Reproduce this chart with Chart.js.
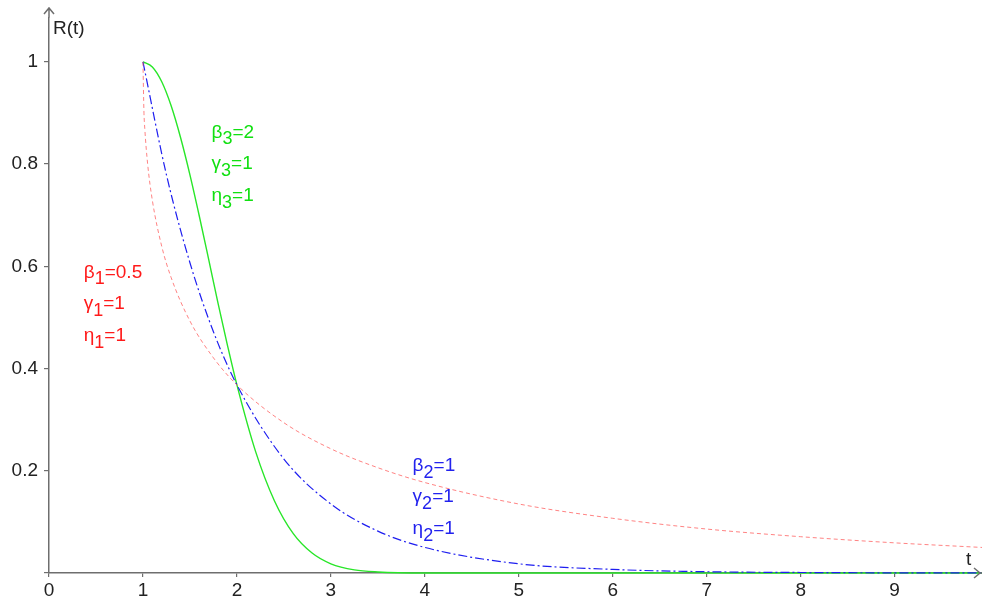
<!DOCTYPE html>
<html>
<head>
<meta charset="utf-8">
<script src="https://cdn.jsdelivr.net/npm/chart.js@4.4.1/dist/chart.umd.min.js"></script>
<style>
  html, body { margin: 0; padding: 0; background: #fff; }
  #wrap { width: 982px; height: 601px; }
</style>
</head>
<body>
<div id="wrap"><canvas id="mycanvas"></canvas></div>
<script>
// values
var tRed   = [1, 1.01, 1.02, 1.05, 1.1, 1.2, 1.3, 1.5, 1.75, 2, 2.5, 3, 3.5, 4, 5, 6, 7, 8, 9, 9.93];
var rRed   = [1, 0.905, 0.868, 0.80, 0.729, 0.639, 0.578, 0.493, 0.421, 0.368, 0.294, 0.243, 0.206, 0.177, 0.135, 0.107, 0.086, 0.071, 0.059, 0.050];

var tBlue  = [1, 1.25, 1.5, 1.75, 2, 2.5, 3, 3.5, 4, 5, 6, 7, 8, 9, 9.93];
var rBlue  = [1, 0.779, 0.607, 0.472, 0.368, 0.223, 0.135, 0.082, 0.050, 0.018, 0.007, 0.0025, 0.001, 0.0003, 0.0001];

var tGreen = [1, 1.1, 1.2, 1.3, 1.4, 1.5, 1.6, 1.7, 1.8, 1.9, 2, 2.2, 2.4, 2.6, 2.8, 3, 3.25, 3.5, 4, 5, 9.93];
var rGreen = [1, 0.990, 0.961, 0.914, 0.852, 0.779, 0.698, 0.613, 0.527, 0.445, 0.368, 0.237, 0.141, 0.077, 0.039, 0.018, 0.006, 0.002, 0.0001, 0, 0];

var xTicks = [0, 1, 2, 3, 4, 5, 6, 7, 8, 9];
var yTicks = [0, 0.2, 0.4, 0.6, 0.8, 1];

// parameter labels: [x, y, symbol, subscript, rest, colour]
var notes = [
  [1.73, 0.862, 'β', '3', '=2', '#11e011'],
  [1.73, 0.800, 'γ', '3', '=1', '#11e011'],
  [1.73, 0.738, 'η', '3', '=1', '#11e011'],
  [0.37, 0.588, 'β', '1', '=0.5', '#ff1a1a'],
  [0.37, 0.526, 'γ', '1', '=1', '#ff1a1a'],
  [0.37, 0.464, 'η', '1', '=1', '#ff1a1a'],
  [3.87, 0.209, 'β', '2', '=1', '#2222ee'],
  [3.87, 0.149, 'γ', '2', '=1', '#2222ee'],
  [3.87, 0.087, 'η', '2', '=1', '#2222ee']
];

function pts(xs, ys) {
  var out = [];
  for (var i in xs) out.push({x: xs[i], y: ys[i]});
  return out;
}

var axisGrey = '#6e6e6e';
var font = 'Liberation Sans, Arial, sans-serif';

var extras = {
  id: 'extras',
  afterDraw: function(chart) {
    var ctx = chart.ctx;
    var xs = chart.scales.x, ys = chart.scales.y;
    var a = chart.chartArea;
    ctx.save();
    // axis extensions + arrow heads
    ctx.strokeStyle = axisGrey;
    ctx.lineWidth = 1.5;
    ctx.beginPath();
    ctx.moveTo(a.left, a.top); ctx.lineTo(a.left, 8);
    ctx.moveTo(a.left - 5, 14); ctx.lineTo(a.left, 8); ctx.lineTo(a.left + 5, 14);
    ctx.moveTo(a.right, a.bottom); ctx.lineTo(980, a.bottom);
    ctx.moveTo(974, a.bottom - 5); ctx.lineTo(980, a.bottom); ctx.lineTo(974, a.bottom + 5);
    ctx.stroke();

    ctx.fillStyle = '#222';
    ctx.font = '19px ' + font;
    ctx.textBaseline = 'middle';
    ctx.fillText('R(t)', a.left + 4, 29);
    ctx.fillText('t', 966, a.bottom - 13);

    // parameter notes with subscripts
    for (var i in notes) {
      var n = notes[i];
      var px = xs.getPixelForValue(n[0]);
      var py = ys.getPixelForValue(n[1]);
      ctx.fillStyle = n[5];
      ctx.font = '19px ' + font;
      ctx.fillText(n[2], px, py);
      var w = ctx.measureText(n[2]).width;
      ctx.font = '18px ' + font;
      ctx.fillText(n[3], px + w, py + 7);
      var w2 = ctx.measureText(n[3]).width;
      ctx.font = '19px ' + font;
      ctx.fillText(n[4], px + w + w2, py);
    }
    ctx.restore();
  }
};

var chartdata = {
  datasets: [
    {
      label: 'beta 0.5',
      data: pts(tRed, rRed),
      borderColor: 'rgba(255, 90, 90, 0.75)',
      borderWidth: 1,
      borderDash: [4, 3],
      cubicInterpolationMode: 'monotone',
      pointRadius: 0,
      showLine: true,
      clip: false
    },
    {
      label: 'beta 1',
      data: pts(tBlue, rBlue),
      borderColor: 'rgba(30, 30, 240, 1)',
      borderWidth: 1.2,
      borderDash: [9, 3, 2, 3],
      cubicInterpolationMode: 'monotone',
      pointRadius: 0,
      showLine: true,
      clip: false
    },
    {
      label: 'beta 2',
      data: pts(tGreen, rGreen),
      borderColor: 'rgba(40, 230, 40, 1)',
      borderWidth: 1.4,
      cubicInterpolationMode: 'monotone',
      pointRadius: 0,
      showLine: true,
      clip: false
    }
  ]
};

var ctx = document.getElementById('mycanvas');
var chart = new Chart(ctx, {
  type: 'scatter',
  data: chartdata,
  plugins: [extras],
  options: {
    responsive: true,
    maintainAspectRatio: false,
    animation: false,
    layout: { padding: { top: 6, right: 0, left: 0, bottom: 0 } },
    plugins: { legend: { display: false }, tooltip: { enabled: false } },
    scales: {
      x: {
        type: 'linear',
        min: 0,
        max: 9.93,
        afterBuildTicks: function(scale) {
          scale.ticks = xTicks.map(function(v) { return {value: v}; });
        },
        afterFit: function(scale) { scale.height = 28; },
        border: { color: axisGrey, width: 1.5 },
        grid: { drawOnChartArea: false, drawTicks: true, tickLength: 4, color: axisGrey, lineWidth: 1.2 },
        ticks: { color: '#222', font: { size: 19, family: font }, padding: 2, maxRotation: 0,
                 callback: function(v) { return v; } }
      },
      y: {
        min: 0,
        max: 1.087,
        afterBuildTicks: function(scale) {
          scale.ticks = yTicks.map(function(v) { return {value: v}; });
        },
        afterFit: function(scale) { scale.width = 49; },
        border: { color: axisGrey, width: 1.5 },
        grid: { drawOnChartArea: false, drawTicks: true, tickLength: 5, color: axisGrey, lineWidth: 1.2 },
        ticks: { color: '#222', font: { size: 19, family: font }, padding: 6,
                 callback: function(v) { return v === 0 ? '' : v; } }
      }
    }
  }
});
</script>
</body>
</html>
